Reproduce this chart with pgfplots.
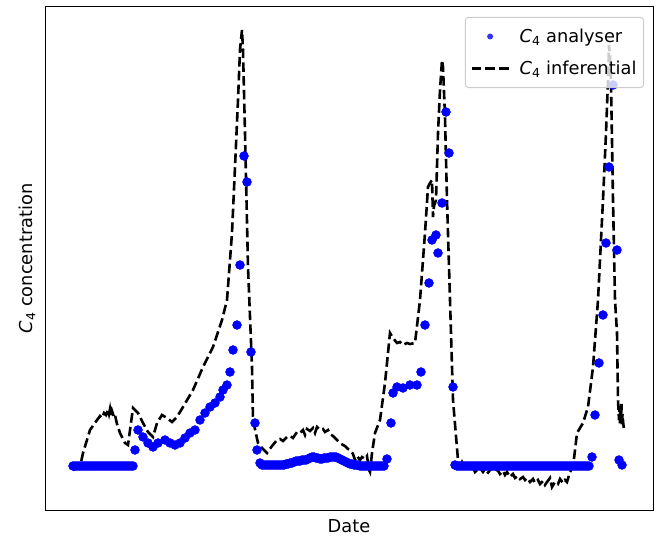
\documentclass[border=0pt]{standalone}
\usepackage{pgfplots}
\pgfplotsset{compat=1.18}
\usepackage{fontspec}
\setmainfont{DejaVu Sans}
\definecolor{legframe}{RGB}{204,204,204}
\newcommand{\Cf}{{\itshape C}\textsubscript{4}}
\begin{document}
\begin{tikzpicture}
\begin{axis}[
  scale only axis, width=608bp, height=503bp,
  xmin=45, xmax=653, ymin=-44, ymax=459,
  xtick=\empty, ytick=\empty,
  axis line style={line width=1bp, black},
  label style={font=\fontsize{17.8bp}{21bp}\selectfont, inner sep=1bp},
  xlabel={Date}, ylabel={\Cf\ concentration},
  xlabel style={at={(axis description cs:0.5,-0.0318)}, anchor=center},
  ylabel style={at={(axis description cs:-0.0296,0.5)}, anchor=center},
  legend cell align=left,
  legend style={at={(axis description cs:1,1)}, anchor=north east,
    xshift=-9bp, yshift=-10bp,
    font=\fontsize{17.8bp}{21bp}\selectfont,
    draw=legframe, line width=1bp, rounded corners=3bp,
    fill=white, fill opacity=0.8, text opacity=1, draw opacity=1,
    inner xsep=5bp, inner ysep=9.5bp, row sep=13bp},
]
\addplot[only marks, mark=*, mark size=4.5bp, mark options={draw=blue, fill=blue},
  legend image code/.code={\fill[blue, draw=none] (18.5bp,0bp) circle (3bp); \path[draw=none, fill=none] (0bp,0bp) -- (46bp,0bp);}]
table {
x y
73 0
75 0
77 0
79 0
81 0
83 0
85 0
87 0
89 0
91 0
93 0
95 0
97 0
99 0
101 0
103 0
105 0
107 0
109 0
111 0
113 0
115 0
117 0
119 0
121 0
123 0
125 0
127 0
129 0
131 0
133 0
135 16
138 36
143 29
148 23
153 19
158 23
165 26
170 23
175 21
180 23
185 28
190 33
195 36
200 46
205 53
210 59
215 63
220 69
223 76
227 81
230 94
233 116
237 141
240 201
244 310
247 284
251 114
255 43
257 16
260 3
262 1
264 1
266 1
268 1
270 1
272 1
274 1
276 1
278 1
280 1
282 1
284 1
286 2
288 2
290 3
292 3
294 4
296 5
298 5
300 5
302 6
304 6
306 6
308 7
310 8
312 9
314 9
316 8
318 8
320 7
322 7
324 8
326 8
328 8
330 9
332 9
334 9
336 9
338 8
340 7
342 6
344 5
346 4
348 3
350 2
352 2
354 1
356 1
358 1
360 0
362 0
364 0
366 0
368 0
370 0
372 0
374 0
376 0
378 0
380 0
382 0
384 0
387 7
391 43
393 73
397 79
403 78
410 81
417 81
421 94
425 141
429 183
432 226
436 231
438 213
442 263
446 354
449 313
453 79
455 1
457 0
459 0
461 0
463 0
465 0
467 0
469 0
471 0
473 0
475 0
477 0
479 0
481 0
483 0
485 0
487 0
489 0
491 0
493 0
495 0
497 0
499 0
501 0
503 0
505 0
507 0
509 0
511 0
513 0
515 0
517 0
519 0
521 0
523 0
525 0
527 0
529 0
531 0
533 0
535 0
537 0
539 0
541 0
543 0
545 0
547 0
549 0
551 0
553 0
555 0
557 0
559 0
561 0
563 0
565 0
567 0
569 0
571 0
573 0
575 0
577 0
579 0
581 0
583 0
585 0
587 0
589 0
592 9
595 51
599 103
603 151
606 223
609 299
613 381
617 216
619 6
622 1
};
\addlegendentry{\Cf\ analyser}
\addplot[black, line width=2.6bp, dash pattern=on 9.6bp off 4.2bp,
  legend image code/.code={\draw[black, line width=2.6bp, dash pattern=on 9.6bp off 4.2bp] (0bp,0bp) -- (37bp,0bp); \path[draw=none, fill=none] (0bp,0bp) -- (46bp,0bp);}]
table {
x y
73 -4
80 -1
83 13
90 36
97 46
100 50
102 48
104 53
106 51
108 56
109 52
110 57
111 50
112 55
114 49
115 51
117 42
120 33
125 23
128 21
133 58
138 53
143 43
148 34
153 29
157 43
162 51
167 48
172 44
177 49
183 59
193 76
203 99
213 119
222 146
227 166
232 233
235 299
238 366
240 416
241 426
242 436
243 416
245 333
248 199
252 99
253 46
258 23
262 18
267 13
272 20
277 26
280 27
283 25
287 29
290 30
293 28
297 34
300 33
303 36
305 31
307 37
310 35
313 38
315 33
317 39
320 36
323 37
325 34
328 36
330 32
333 30
335 28
338 25
340 23
343 21
345 20
348 17
350 16
353 12
355 6
357 10
360 6
362 9
365 7
367 10
369 -4
370 -6
372 13
375 33
380 46
385 83
390 133
393 128
397 123
400 124
403 121
407 123
410 122
415 123
420 166
425 233
428 279
430 283
432 286
433 249
434 260
436 266
438 333
440 376
442 406
443 399
445 349
447 266
450 166
453 66
458 6
460 0
462 4
465 -2
467 1
470 -3
472 0
475 -6
477 -4
480 -2
483 -6
485 -3
487 -8
490 -4
493 -1
495 -5
497 -3
500 -8
503 -5
505 -9
507 -6
510 -11
513 -8
515 -12
518 -10
520 -13
523 -11
525 -14
527 -12
530 -16
533 -13
535 -17
538 -14
540 -18
543 -15
545 -19
547 -16
550 -12
552 -21
555 -16
558 -18
560 -13
563 -17
565 -14
567 -16
570 -6
573 -1
577 33
580 38
583 43
588 59
593 99
598 166
603 266
606 333
608 386
609 421
610 410
611 383
613 266
615 166
617 133
618 66
619 46
619.5 60
620 42
620.5 55
621 48
621.5 62
622 40
622.5 52
623 45
624 36
};
\addlegendentry{\Cf\ inferential}
\end{axis}
\pgfresetboundingbox
\useasboundingbox (-45bp,-26bp) rectangle (612bp,510bp);
\end{tikzpicture}
\end{document}
